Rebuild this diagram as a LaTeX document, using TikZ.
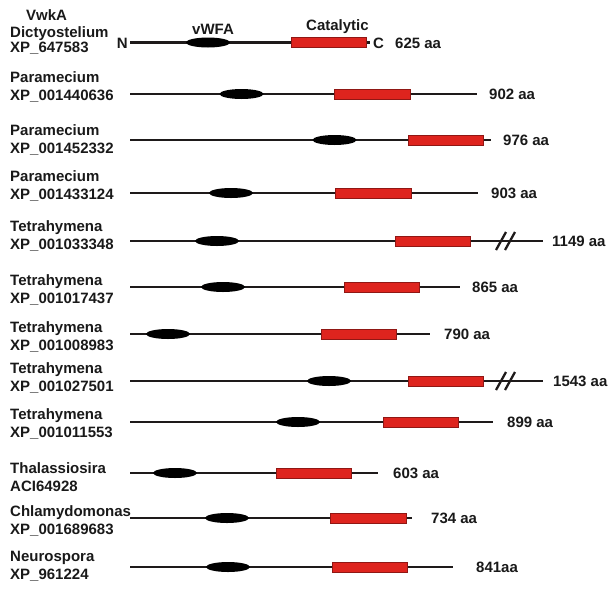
\documentclass[tikz,border=0pt]{standalone}
\usepackage{fontspec}
\setmainfont{Liberation Sans}
\usetikzlibrary{shapes.geometric}
\definecolor{catred}{RGB}{222,36,30}
\definecolor{backc}{RGB}{30,26,26}
\begin{document}
\begin{tikzpicture}[x=1pt,y=-1pt,
  backbone/.style={line width=2.8pt, draw=backc},
  vwfa/.style={ellipse, fill=black, minimum width=44pt, minimum height=10pt, inner sep=0pt},
  catbox/.style={rectangle, fill=catred, draw=catred!65!black, line width=0.5pt, minimum height=10pt, inner sep=0pt, anchor=west},
  lbl/.style={font=\fontsize{15}{18}\selectfont\bfseries, inner sep=0pt, anchor=base west, text=black!90},
  brk/.style={line width=2.3pt, draw=backc},
]
\useasboundingbox (0,0) rectangle (615,595);
% row 1
\coordinate (s1) at (130,42.5);
\coordinate (t1) at (370,42.5);
\draw[backbone] (s1) -- (t1);
\node[vwfa] (e1) at (208,42.5) {};
\node[catbox, minimum width=75pt] (c1) at (291,42.5) {};
\node[lbl, anchor=base east] (nterm) at (128,48) {N};
\node[lbl] (cterm) at (373,48) {C};
\node[lbl] (len1) at (395,48) {625 aa};
\node[lbl] (vw) at (192,34.4) {vWFA};
\node[lbl] (cat) at (306,30.9) {Catalytic};
\node[lbl] (na1) at (26,20) {VwkA};
\node[lbl] (nb1) at (10,37) {Dictyostelium};
\node[lbl] (nc1) at (10,52.6) {XP\_647583};
% other rows
\foreach \i/\y/\ly/\e/\c/\rs/\re/\sx/\sz/\nm/\acc/\brk in {
  2/94/95/477/241.5/334/410/489/902 aa/Paramecium/XP\_001440636/0,
  3/140/148/491/334.5/408/483/503/976 aa/Paramecium/XP\_001452332/0,
  4/193/194/478/231/335/411/491/903 aa/Paramecium/XP\_001433124/0,
  5/241/244/543/217/395/470/552/1149 aa/Tetrahymena/XP\_001033348/1,
  6/287/298/460/223/344/419/472/865 aa/Tetrahymena/XP\_001017437/0,
  7/334/345/430/168/321/396/444/790 aa/Tetrahymena/XP\_001008983/0,
  8/381/386/543/329/408/483/553/1543 aa/Tetrahymena/XP\_001027501/1,
  9/422/432/493/298/383/458/507/899 aa/Tetrahymena/XP\_001011553/0,
  10/473/486/378/175/276/351/393/603 aa/Thalassiosira/ACI64928/0,
  11/518/529/412/227/330/406/431/734 aa/Chlamydomonas/XP\_001689683/0,
  12/567/574/453/228/332/407/476/841aa/Neurospora/XP\_961224/0}{
  \coordinate (s\i) at (130,\y);
  \coordinate (t\i) at (\e,\y);
  \draw[backbone] (s\i) -- (t\i);
  \node[vwfa] (e\i) at (\c,\y) {};
  \node[catbox, minimum width={(\re-\rs)*1pt}] (c\i) at (\rs,\y) {};
  \node[lbl] (len\i) at (\sx,\y+5.4) {\sz};
  \node[lbl] (na\i) at (10,\ly-12.1) {\nm};
  \node[lbl] (nb\i) at (10,\ly+5.4) {\acc};
  \ifnum\brk=1
    \coordinate (ba\i) at (496,\y+9);
    \coordinate (bb\i) at (506,\y-9);
    \coordinate (bc\i) at (505,\y+9);
    \coordinate (bd\i) at (515,\y-9);
    \draw[brk] (ba\i) -- (bb\i);
    \draw[brk] (bc\i) -- (bd\i);
  \fi
}
\end{tikzpicture}
\end{document}
